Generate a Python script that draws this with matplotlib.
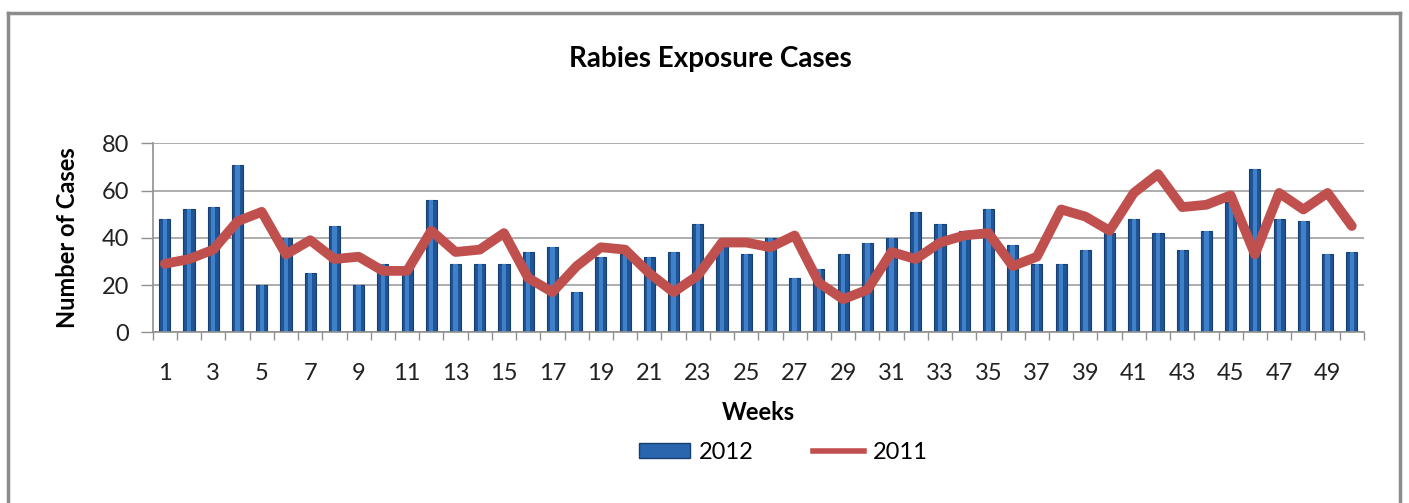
import numpy as np
import matplotlib
matplotlib.use("Agg")
import matplotlib.pyplot as plt
from matplotlib.patches import Patch
from matplotlib.lines import Line2D

plt.rcParams['font.family'] = ['Lato', 'DejaVu Sans']

weeks = np.arange(1, 51)
cases_2012 = [48, 52, 53, 71, 20, 40, 25, 45, 20, 29,
              27, 56, 29, 29, 29, 34, 36, 17, 32, 33,
              32, 34, 46, 37, 33, 40, 23, 27, 33, 38,
              40, 51, 46, 43, 52, 37, 29, 29, 35, 42,
              48, 42, 35, 43, 55, 69, 48, 47, 33, 34]
cases_2011 = [29, 31, 35, 47, 51, 33, 39, 31, 32, 26,
              26, 43, 34, 35, 42, 23, 17, 28, 36, 35,
              25, 17, 24, 38, 38, 36, 41, 21, 14, 18,
              34, 31, 38, 41, 42, 28, 32, 52, 49, 43,
              59, 67, 53, 54, 58, 33, 59, 52, 59, 45]
tick_weeks = list(range(1, 51, 2))

fig = plt.figure(figsize=(14.09, 5.03), dpi=100)
ax = fig.add_axes([0.1084, 0.3394, 0.8596, 0.3756])

# bars with a lighter centre strip to hint at the cylinder look
ax.bar(weeks, cases_2012, width=0.46, color='#1f5596', edgecolor='#163f70',
       linewidth=0.8, zorder=2)
ax.bar(weeks, cases_2012, width=0.18, color='#3f80c8', linewidth=0, zorder=2.1)
ax.plot(weeks, cases_2011, color='#c0504d', linewidth=7,
        solid_joinstyle='round', solid_capstyle='round', zorder=3)

ax.set_xlim(0.5, 50.5)
ax.set_ylim(0, 80)
ax.set_yticks([0, 20, 40, 60, 80])
ax.yaxis.grid(True, color='#a0a0a0', linewidth=1.2, zorder=0)
ax.set_axisbelow(True)
ax.set_xticks(tick_weeks)
ax.set_xticks(np.arange(0.5, 51, 1), minor=True)
ax.tick_params(axis='x', which='major', length=0, pad=22, labelsize=17,
               labelcolor='#222222')
ax.tick_params(axis='x', which='minor', length=6, color='#909090', width=1)
ax.tick_params(axis='y', length=9, color='#909090', width=1, labelsize=17,
               labelcolor='#222222', pad=8)
for s in ['top', 'right']:
    ax.spines[s].set_visible(False)
for s in ['left', 'bottom']:
    ax.spines[s].set_color('#909090')
    ax.spines[s].set_linewidth(1.2)

ax.set_xlabel('Weeks', fontsize=17, fontweight='bold', labelpad=12)
ax.set_ylabel('Number of Cases', fontsize=17, fontweight='bold', labelpad=16)
fig.text(0.504, 0.883, 'Rabies Exposure Cases', ha='center', va='center',
         fontsize=20, fontweight='bold')

handles = [Patch(facecolor='#2a66ad', edgecolor='#163f70'),
           Line2D([0], [0], color='#c0504d', linewidth=4)]
fig.legend(handles, ['2012', '2011'], loc='center',
           bbox_to_anchor=(0.556, 0.1), ncol=2, frameon=False, fontsize=17,
           handlelength=2.15, handleheight=0.6, columnspacing=2.5,
           handletextpad=0.4)

# outer chart frame
W, H = 1409, 503
frame_kw = dict(color='#8c8c8c', linewidth=2.5, transform=fig.transFigure)
fig.add_artist(Line2D([8 / W, 8 / W], [0, 1 - 13 / H], **frame_kw))
fig.add_artist(Line2D([8 / W, 1400 / W], [1 - 13 / H, 1 - 13 / H], **frame_kw))
fig.add_artist(Line2D([1400 / W, 1400 / W], [0, 1 - 13 / H], **frame_kw))

fig.savefig('out.png', dpi=100, facecolor='white')
